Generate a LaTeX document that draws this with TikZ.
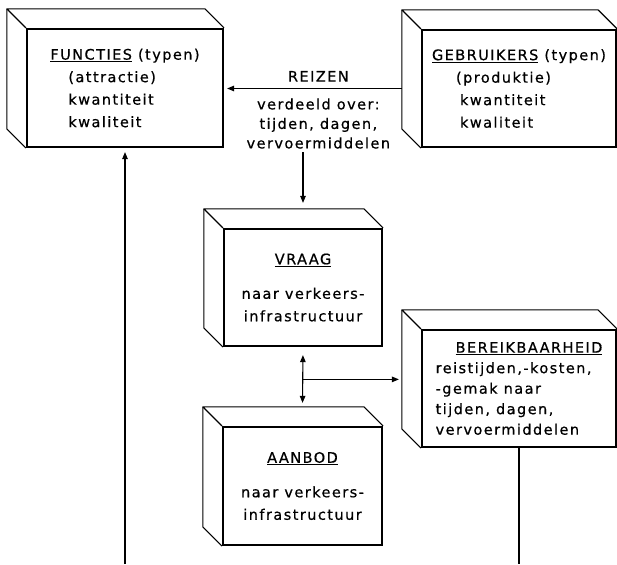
\documentclass[tikz,border=0pt]{standalone}
\usepackage{fontspec}
\setmainfont{DejaVu Sans}[LetterSpace=10,FakeBold=0.6]
\usepackage{tikz}
\usetikzlibrary{arrows.meta}

\begin{document}
\begin{tikzpicture}[x=1pt,y=1pt,
    box/.style={draw,line width=2.2pt,inner sep=0pt,font=\fontsize{14.5}{22.5}\selectfont},
    edge/.style={line width=1.1pt,line join=round},
    arr/.style={line width=1.1pt,-{Triangle[length=7pt,width=5.5pt]}},
    dblarr/.style={line width=1.1pt,{Triangle[length=7pt,width=5.5pt]}-{Triangle[length=7pt,width=5.5pt]}},
  ]
  \useasboundingbox (0,0) rectangle (617,564);
  \coordinate (floor) at (0,0);

  % boxes (front faces)
  \node[box,minimum width=196pt,minimum height=118pt,align=left] (func) at (125,476)
    {\underline{FUNCTIES} (typen)\\ \hspace*{18pt}(attractie)\\ \hspace*{18pt}kwantiteit\\ \hspace*{18pt}kwaliteit};
  \node[box,minimum width=194pt,minimum height=117pt,align=left] (gebr) at (519,475.5)
    {\underline{GEBRUIKERS} (typen)\\ \hspace*{24pt}(produktie)\\ \hspace*{28pt}kwantiteit\\ \hspace*{28pt}kwaliteit};
  \node[box,minimum width=158pt,minimum height=117pt,align=center] (vraag) at (303,276.5)
    {\underline{VRAAG}\\[12pt] naar verkeers-\\ infrastructuur};
  \node[box,minimum width=159pt,minimum height=118pt,align=center] (aanbod) at (302.5,78)
    {\underline{AANBOD}\\[12pt] naar verkeers-\\ infrastructuur};
  \node[box,minimum width=194pt,minimum height=117pt,align=left,font=\fontsize{14.5}{20.5}\selectfont] (bereik) at (519,175.5)
    {\hspace*{20pt}\underline{BEREIKBAARHEID}\\ reistijden,-kosten,\\ -gemak naar\\ tijden, dagen,\\ vervoermiddelen};

  % depth of the boxes
  \foreach \b in {func,gebr,vraag,aanbod,bereik}{
    \draw[edge] (\b.north west) -- ++(-19,19) coordinate (\b-nw)
      -- ([shift={(-19,19)}]\b.north east) -- (\b.north east);
    \draw[edge] (\b-nw) -- ([shift={(-19,19)}]\b.south west) -- (\b.south west);
  }

  % connectors
  \draw[arr,shorten >=3pt] (gebr-nw |- gebr.west) -- (gebr.west -| func.east)
    node[pos=0.47,above=3pt,font=\fontsize{14.5}{19.5}\selectfont] (reizen) {REIZEN}
    node[pos=0.47,below=6pt,align=center,font=\fontsize{14.5}{19.5}\selectfont] (verdeeld)
      {verdeeld over:\\ tijden, dagen,\\ vervoermiddelen};
  \draw[arr,shorten >=6pt] (verdeeld.south -| vraag.north) -- ([yshift=19pt]vraag.north);
  \draw[dblarr,shorten <=8pt,shorten >=4pt] (vraag.south) -- coordinate[pos=0.54] (split) ([yshift=19pt]aanbod.north);
  \draw[arr,shorten >=3pt] (split) -- (split -| bereik-nw);
  \draw[edge] (bereik.south) -- (bereik.south |- floor);
  \draw[arr,shorten >=4pt] (func.south |- floor) -- (func.south);
\end{tikzpicture}
\end{document}
